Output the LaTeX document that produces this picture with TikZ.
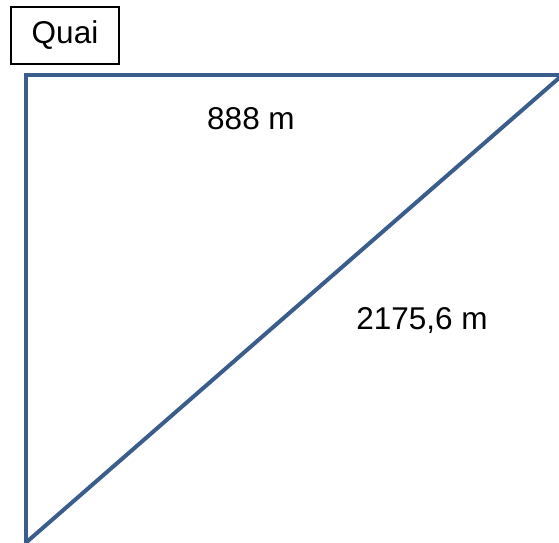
\documentclass[tikz,border=0pt]{standalone}
\usepackage{fontspec}
\setmainfont{Liberation Sans}
\usetikzlibrary{positioning}
\definecolor{edgeblue}{RGB}{58,93,140}

\begin{document}
\begin{tikzpicture}[
    x=1pt, y=-1pt,
    font=\fontsize{31.5}{37}\selectfont,
    side/.style={draw=edgeblue, line width=4pt, line join=miter},
    tag/.style={rectangle, draw=black, line width=1.4pt, minimum width=108pt, minimum height=57pt, inner sep=0pt},
    measure/.style={anchor=base, inner sep=0pt}
]
    \useasboundingbox (0,0) rectangle (559,542);

    % --- corners of the triangle ---
    \coordinate (TopLeft) at (25.5,75);
    \coordinate (TopRight) at (575,75);
    \coordinate (BottomLeft) at (25.5,543);
    \coordinate (DiagEnd) at (580,59.7);

    % --- label box ---
    \node[tag] (Quai) at (65,35.5) {Quai};

    % --- sides ---
    \begin{scope}
        \clip (0,0) rectangle (559,542);
        \draw[side] (BottomLeft) -- (TopLeft) -- (TopRight);
        \draw[side] (BottomLeft) -- (DiagEnd);
    \end{scope}

    % --- lengths ---
    \node[measure] (Top) at (251,129) {888 m};
    \node[measure] (Hyp) at (422,329) {2175,6 m};
\end{tikzpicture}
\end{document}
